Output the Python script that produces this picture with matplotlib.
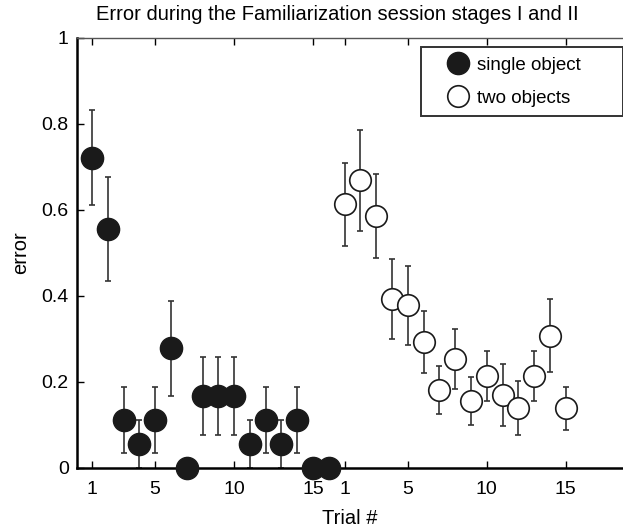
import numpy as np
import matplotlib
matplotlib.use("Agg")
import matplotlib.pyplot as plt

plt.rcParams['font.family'] = ['Liberation Sans', 'DejaVu Sans']

# familiarization session, stage I (single object) and stage II (two objects)
single_trial = np.arange(1, 17)
single_err = [0.722, 0.556, 0.111, 0.056, 0.111, 0.278, 0.0, 0.167,
              0.167, 0.167, 0.056, 0.111, 0.056, 0.111, 0.0, 0.0]
single_sem = [0.11, 0.12, 0.077, 0.056, 0.077, 0.11, 0.0, 0.09,
              0.09, 0.09, 0.056, 0.077, 0.056, 0.077, 0.0, 0.0]

two_trial = np.arange(1, 16)
two_err = [0.613, 0.669, 0.586, 0.394, 0.378, 0.294, 0.182, 0.253,
           0.155, 0.213, 0.170, 0.139, 0.213, 0.308, 0.139]
two_sem = [0.097, 0.118, 0.098, 0.093, 0.092, 0.072, 0.056, 0.07,
           0.056, 0.058, 0.072, 0.063, 0.058, 0.085, 0.05]

tick_trials = [1, 5, 10, 15]
OFFSET = 16  # stage II is plotted right after stage I

fig = plt.figure(figsize=(6.23, 5.30), dpi=100)
ax = fig.add_axes([77 / 623, 1 - 468 / 530, 1 - 77 / 623, 430 / 530])

ebar = dict(fmt='none', ecolor='#333333', elinewidth=1.2, capsize=2, capthick=1.2, zorder=1)
ax.errorbar(single_trial, single_err, yerr=single_sem, **ebar)
ax.errorbar(two_trial + OFFSET, two_err, yerr=two_sem, **ebar)
ax.plot(single_trial, single_err, 'o', ms=16, mfc='#1a1a1a', mec='#1a1a1a',
        label='single object', zorder=3, clip_on=False)
ax.plot(two_trial + OFFSET, two_err, 'o', ms=15.5, mfc='white', mec='#1a1a1a',
        mew=1.2, label='two objects', zorder=3, clip_on=False)

ax.set_xlim(0.05, 1 + (623 - 92) / 15.79)
ax.set_ylim(0, 1)
ticks = tick_trials + [t + OFFSET for t in tick_trials]
ax.set_xticks(ticks)
ax.set_xticklabels([str(t) for t in tick_trials] * 2)
ax.set_yticks([0, 0.2, 0.4, 0.6, 0.8, 1])
ax.set_yticklabels(['0', '0.2', '0.4', '0.6', '0.8', '1'])
ax.tick_params(direction='in', length=5, width=1, labelsize=14, top=True)
ax.tick_params(axis='x', pad=9)
ax.tick_params(axis='y', pad=6)
ax.spines['right'].set_visible(False)
for s in ['left', 'bottom']:
    ax.spines[s].set_linewidth(1.8)
ax.spines['top'].set_linewidth(1.0)
ax.spines['top'].set_color('#555555')

ax.set_xlabel('Trial #', fontsize=14.5, labelpad=8)
ax.set_ylabel('error', fontsize=14.5, labelpad=8)
fig.text(337 / 623, 1 - 15 / 530, 'Error during the Familiarization session stages I and II',
         ha='center', va='center', fontsize=14.5)

leg = ax.legend(loc='upper left',
                bbox_to_anchor=(421 / 623, 1 - 114 / 530, 202 / 623, 67 / 530),
                bbox_transform=fig.transFigure, mode='expand', fontsize=13.5,
                frameon=True, fancybox=False, edgecolor='black', borderpad=0.5,
                handletextpad=-0.4, labelspacing=0.85, handlelength=2.9,
                borderaxespad=0, numpoints=1)
leg.get_frame().set_linewidth(1.4)

fig.savefig('out.png', dpi=100)
